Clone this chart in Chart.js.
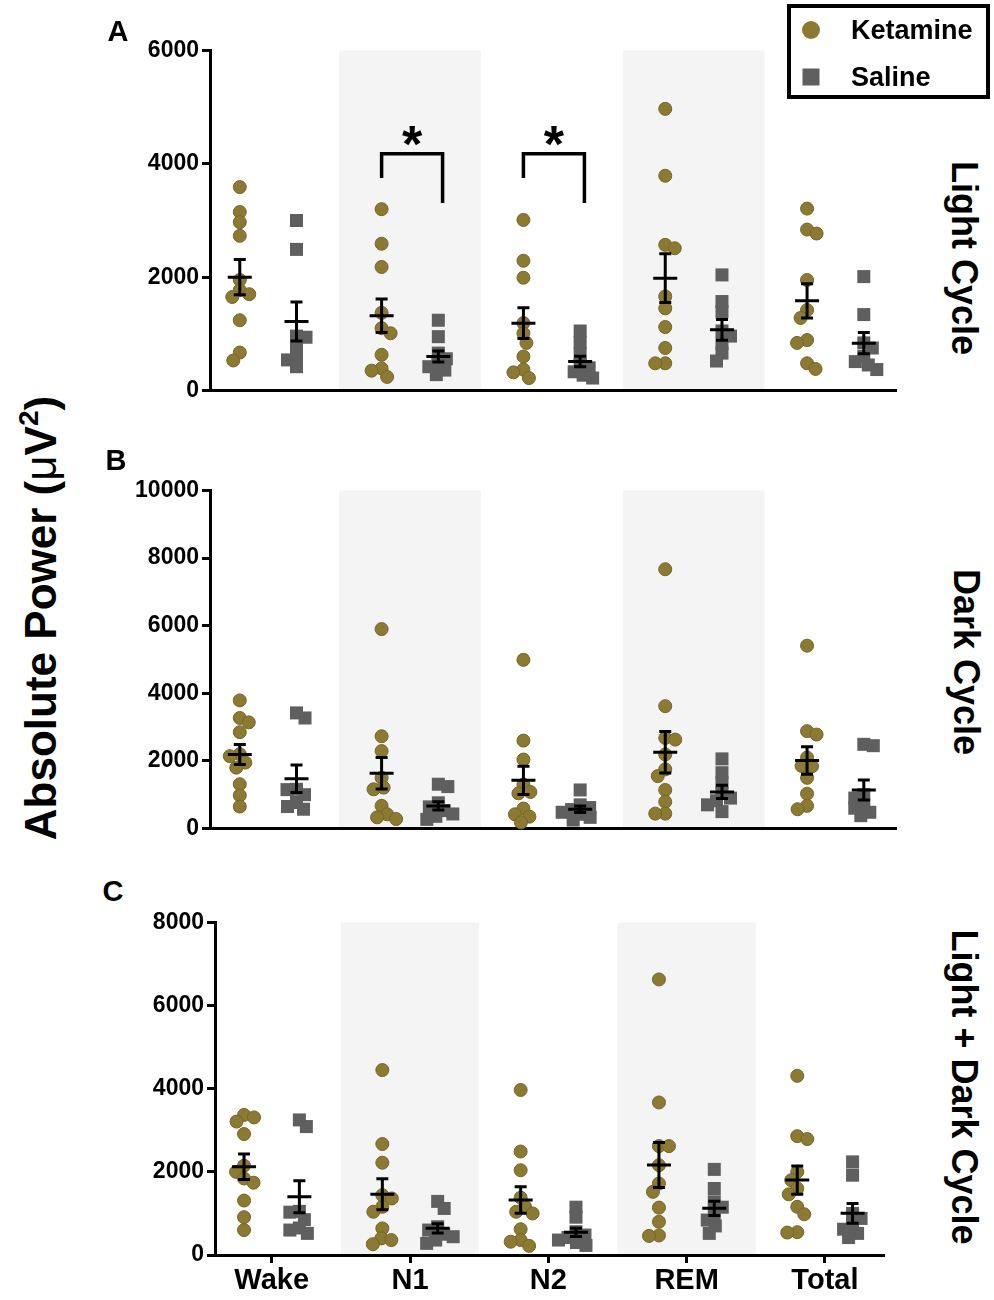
<!DOCTYPE html>
<html lang="en">
<head>
<meta charset="UTF-8">
<title>Absolute Power – Ketamine vs Saline</title>
<script src="https://cdn.jsdelivr.net/npm/chart.js"></script>
<style>
  body { margin: 0; background: #fff; font-family: "Liberation Sans", Arial, sans-serif; }
  #page { position: relative; width: 994px; height: 1300px; overflow: hidden; }
  canvas { position: absolute; left: 90px; }
  .lbl { position: absolute; font-weight: bold; color: #000; white-space: nowrap; line-height: 1; }
  .panel { font-size: 29px; transform: translate(-50%, -50%); }
  .side { font-size: 36px; transform: translate(-50%, -50%) rotate(90deg); }
  #ytitle { font-size: 44px; left: 41px; top: 618px; transform: translate(-50%, -50%) rotate(-90deg); }
  #ytitle .mu { font-weight: normal; }
  #ytitle sup { font-size: 28px; vertical-align: 18px; line-height: 0; }
  #legend { position: absolute; left: 787px; top: 4px; width: 203px; height: 95px; border: 4px solid #000; box-sizing: border-box; }
  #legend .item { position: absolute; left: 60px; font-size: 27px; font-weight: bold; line-height: 1; transform: translateY(-50%); }
  #legend .mark { position: absolute; transform: translate(-50%, -50%); }
</style>
</head>
<body>
<div id="page">
  <canvas id="chartA" width="830" height="369" style="top:36px"></canvas>
  <canvas id="chartB" width="830" height="367" style="top:476px"></canvas>
  <canvas id="chartC" width="830" height="392" style="top:908px"></canvas>

  <div class="lbl panel" style="left:118px; top:31px">A</div>
  <div class="lbl panel" style="left:116px; top:460px">B</div>
  <div class="lbl panel" style="left:113px; top:891px">C</div>

  <div class="lbl side" style="left:964px; top:258px">Light Cycle</div>
  <div class="lbl side" style="left:966px; top:662px">Dark Cycle</div>
  <div class="lbl side" style="left:964px; top:1087px">Light + Dark Cycle</div>

  <div class="lbl" id="ytitle">Absolute Power (<span class="mu">μ</span>V<sup>2</sup>)</div>

  <div id="legend"></div>
</div>

<script>
// ---- data ----
const categories = ['Wake', 'N1', 'N2', 'REM', 'Total'];
const seriesNames = ['Ketamine', 'Saline'];
const shadedCats = [1, 3];

// A: light cycle
const lightKet = [
  [3590, 3150, 2970, 2730, 1950, 1770, 1700, 1650, 1240, 670, 530],
  [3200, 2590, 2180, 1370, 1100, 1010, 630, 390, 350, 240],
  [3010, 2290, 1990, 1190, 1010, 840, 600, 370, 320, 220],
  [4970, 3790, 2570, 2510, 1660, 1450, 1120, 750, 480, 480],
  [3210, 2840, 2770, 1950, 1420, 1280, 890, 840, 480, 380]
];
const lightSal = [
  [3000, 2490, 960, 940, 780, 600, 540, 420],
  [1240, 950, 660, 560, 480, 420, 360, 280],
  [1050, 850, 650, 460, 400, 330, 270, 220],
  [2040, 1570, 1390, 1050, 960, 830, 660, 520],
  [2010, 1340, 840, 750, 600, 510, 450, 370]
];
const lightKetMean = [2000, 1318, 1188, 1982, 1582];
const lightKetSem = [310, 295, 272, 430, 303];
const lightSalMean = [1218, 600, 512, 1070, 835];
const lightSalSem = [345, 98, 94, 185, 188];

// B: dark cycle
const darkKet = [
  [3790, 3270, 3140, 2850, 2200, 2140, 1950, 1800, 1310, 980, 650],
  [5900, 2730, 2290, 1500, 1210, 1160, 670, 420, 330, 280],
  [4990, 2600, 2040, 1300, 1080, 1040, 590, 420, 350, 180],
  [7670, 3620, 2680, 2630, 2190, 1750, 1550, 1140, 790, 440, 440],
  [5410, 2880, 2780, 2100, 1850, 1840, 1500, 1030, 670, 570]
];
const darkSal = [
  [3420, 3270, 1160, 1150, 1000, 770, 650, 570],
  [1310, 1240, 760, 640, 530, 430, 360, 270],
  [1140, 700, 620, 560, 480, 420, 330, 250],
  [2060, 1650, 1360, 1050, 900, 820, 700, 500],
  [2490, 2450, 1000, 900, 700, 600, 480, 380]
];
const darkKetMean = [2190, 1631, 1424, 2259, 2014];
const darkKetSem = [295, 466, 418, 614, 408];
const darkSalMean = [1473, 668, 570, 1080, 1139];
const darkSalSem = [408, 123, 98, 196, 295];

// C: light + dark cycle
const allKet = [
  [3370, 3310, 3210, 2910, 2150, 2000, 1840, 1740, 1310, 910, 600],
  [4450, 2670, 2220, 1440, 1360, 1160, 1040, 640, 400, 360, 260],
  [3970, 2490, 2040, 1380, 1160, 1040, 1000, 620, 360, 320, 220],
  [6630, 3670, 2620, 2620, 2160, 1720, 1520, 1140, 800, 470, 460],
  [4310, 2860, 2790, 2000, 1800, 1600, 1460, 1160, 980, 550, 540]
];
const allSal = [
  [3250, 3090, 1050, 1030, 850, 650, 600, 520],
  [1290, 1120, 680, 600, 500, 440, 360, 280],
  [1150, 910, 560, 480, 420, 360, 300, 230],
  [2060, 1600, 1280, 1150, 1000, 840, 700, 520],
  [2240, 1920, 1000, 880, 720, 620, 520, 420]
];
const allKetMean = [2124, 1459, 1323, 2164, 1804];
const allKetSem = [305, 373, 320, 541, 340];
const allSalMean = [1403, 641, 545, 1122, 1002];
const allSalSem = [385, 112, 100, 172, 240];

// significance brackets (panel A): category, top, left drop, right drop
const sigCats = [1, 2];
const sigTop = [4180, 4180];
const sigLeftEnd = [3750, 3750];
const sigRightEnd = [3310, 3310];
const sigStarY = [4470, 4470];

// ---- styling ----
const ketColor = '#8c7a32';
const ketEdge = '#75662a';
const salColor = '#5f5f5f';
const shadeColor = '#f4f4f4';
const ketOffset = -0.2, salOffset = 0.2;

Chart.defaults.font.family = "'Liberation Sans', Arial, sans-serif";
Chart.defaults.font.weight = 'bold';
Chart.defaults.color = '#000';

// legend
const legend = document.getElementById('legend');
seriesNames.forEach((name, i) => {
  const cy = i === 0 ? 22 : 69;
  const mark = document.createElement('div');
  mark.className = 'mark';
  mark.style.left = '20px';
  mark.style.top = cy + 'px';
  if (i === 0) {
    mark.style.width = mark.style.height = '18px';
    mark.style.borderRadius = '50%';
    mark.style.background = ketColor;
  } else {
    mark.style.width = mark.style.height = '17px';
    mark.style.background = salColor;
  }
  const txt = document.createElement('div');
  txt.className = 'item';
  txt.style.top = cy + 'px';
  txt.textContent = name;
  legend.appendChild(mark);
  legend.appendChild(txt);
});

// beeswarm-style horizontal spread, done in pixel space via the chart scales
function swarm(chart) {
  const xs = chart.scales.x, ys = chart.scales.y;
  const pxPerUnit = xs.getPixelForValue(1) - xs.getPixelForValue(0);
  chart.data.datasets.forEach(ds => {
    const pts = [];
    ds.vals.forEach((vals, i) => {
      const c = i + ds.offset;
      const placed = [];
      vals.slice().sort((a, b) => b - a).forEach(v => {
        const py = ys.getPixelForValue(v);
        const sum = placed.reduce((s, p) => s + p.dx, 0);
        const first = sum <= 0 ? 1 : -1;
        let pick = 0;
        outer:
        for (let s = 0; s < 80; s += 0.5) {
          for (const sign of [first, -first]) {
            const cand = sign * s;
            if (placed.every(p => (p.dx - cand) ** 2 + (p.py - py) ** 2 >= ds.gap * ds.gap)) {
              pick = cand;
              break outer;
            }
          }
        }
        placed.push({ dx: pick, py });
        pts.push({ x: c + pick / pxPerUnit, y: v });
      });
    });
    ds.data = pts;
  });
  chart.update('none');
}

function makePanel(cfg) {
  const shadePlugin = {
    id: 'shade' + cfg.id,
    beforeDraw(chart) {
      const { ctx, chartArea, scales: { x } } = chart;
      ctx.save();
      ctx.fillStyle = shadeColor;
      shadedCats.forEach(i => {
        const l = x.getPixelForValue(i - 0.5), r = x.getPixelForValue(i + 0.5);
        ctx.fillRect(l, chartArea.top, r - l, chartArea.bottom - chartArea.top);
      });
      ctx.restore();
    }
  };

  const errPlugin = {
    id: 'err' + cfg.id,
    afterDatasetsDraw(chart) {
      const { ctx, scales: { x, y } } = chart;
      ctx.save();
      ctx.strokeStyle = '#000';
      ctx.lineWidth = 3;
      [[cfg.ketMean, cfg.ketSem, ketOffset], [cfg.salMean, cfg.salSem, salOffset]].forEach(([mean, sem, off]) => {
        mean.forEach((m, i) => {
          const cx = x.getPixelForValue(i + off);
          const ym = y.getPixelForValue(m);
          const yt = y.getPixelForValue(m + sem[i]);
          const yb = y.getPixelForValue(m - sem[i]);
          ctx.beginPath();
          ctx.moveTo(cx - 12, ym); ctx.lineTo(cx + 12, ym);
          ctx.moveTo(cx, yt); ctx.lineTo(cx, yb);
          ctx.moveTo(cx - 6, yt); ctx.lineTo(cx + 6, yt);
          ctx.moveTo(cx - 6, yb); ctx.lineTo(cx + 6, yb);
          ctx.stroke();
        });
      });

      if (cfg.brackets) {
        ctx.lineWidth = 3.5;
        ctx.fillStyle = '#000';
        ctx.font = "bold 52px 'Liberation Sans', Arial, sans-serif";
        ctx.textAlign = 'center';
        ctx.textBaseline = 'middle';
        sigCats.forEach((c, k) => {
          const xl = x.getPixelForValue(c + ketOffset);
          const xr = x.getPixelForValue(c + 0.23);
          const yt = y.getPixelForValue(sigTop[k]);
          ctx.beginPath();
          ctx.moveTo(xl, y.getPixelForValue(sigLeftEnd[k]));
          ctx.lineTo(xl, yt);
          ctx.lineTo(xr, yt);
          ctx.lineTo(xr, y.getPixelForValue(sigRightEnd[k]));
          ctx.stroke();
          ctx.fillText('*', (xl + xr) / 2, y.getPixelForValue(sigStarY[k]) + 10);
        });
      }
      ctx.restore();
    }
  };

  const datasets = [
    { label: seriesNames[0], vals: cfg.ket, offset: ketOffset, gap: 10,
      pointStyle: 'circle', pointRadius: 6.5, backgroundColor: ketColor, borderColor: ketEdge, borderWidth: 1 },
    { label: seriesNames[1], vals: cfg.sal, offset: salOffset, gap: 9.5,
      pointStyle: 'rect', pointRadius: 9.2, backgroundColor: salColor, borderColor: salColor, borderWidth: 0 }
  ];
  datasets.forEach(ds => {
    ds.data = ds.vals.flatMap((vals, i) => vals.map(v => ({ x: i + ds.offset, y: v })));
    ds.pointHoverRadius = ds.pointRadius;
    ds.clip = false;
  });

  const chart = new Chart(document.getElementById('chart' + cfg.id), {
    type: 'scatter',
    data: { datasets },
    options: {
      responsive: false,
      animation: false,
      events: [],
      layout: { padding: { top: 14, right: cfg.padRight, left: 0, bottom: 0 } },
      plugins: { legend: { display: false }, tooltip: { enabled: false } },
      scales: {
        x: {
          type: 'linear',
          min: -0.41,
          max: 4.42,
          afterFit: s => { s.height = cfg.xHeight; },
          afterBuildTicks: s => { s.ticks = categories.map((c, i) => ({ value: i })); },
          border: { display: true, color: '#000', width: 3 },
          grid: { display: cfg.xLabels, drawOnChartArea: false, drawTicks: true, tickLength: 8, color: '#000', lineWidth: 3 },
          ticks: {
            display: cfg.xLabels,
            autoSkip: false,
            maxRotation: 0,
            padding: 3,
            color: '#000',
            font: { size: 29, weight: 'bold', lineHeight: 1 },
            callback: v => categories[v]
          }
        },
        y: {
          min: 0,
          max: cfg.yMax,
          afterFit: s => { s.width = cfg.yWidth; },
          border: { display: true, color: '#000', width: 3 },
          grid: { display: true, drawOnChartArea: false, drawTicks: true, tickLength: 8, color: '#000', lineWidth: 3 },
          ticks: { stepSize: 2000, padding: 3, color: '#000', font: { size: 23, weight: 'bold', lineHeight: 1 }, callback: v => String(v) }
        }
      }
    },
    plugins: [shadePlugin, errPlugin]
  });
  swarm(chart);
  return chart;
}

makePanel({ id: 'A', ket: lightKet, sal: lightSal, ketMean: lightKetMean, ketSem: lightKetSem,
  salMean: lightSalMean, salSem: lightSalSem, yMax: 6000, yWidth: 120, padRight: 25, xHeight: 14,
  xLabels: false, brackets: true });
makePanel({ id: 'B', ket: darkKet, sal: darkSal, ketMean: darkKetMean, ketSem: darkKetSem,
  salMean: darkSalMean, salSem: darkSalSem, yMax: 10000, yWidth: 120, padRight: 25, xHeight: 14,
  xLabels: false, brackets: false });
makePanel({ id: 'C', ket: allKet, sal: allSal, ketMean: allKetMean, ketSem: allKetSem,
  salMean: allSalMean, salSem: allSalSem, yMax: 8000, yWidth: 125, padRight: 37, xHeight: 45,
  xLabels: true, brackets: false });
</script>
</body>
</html>
